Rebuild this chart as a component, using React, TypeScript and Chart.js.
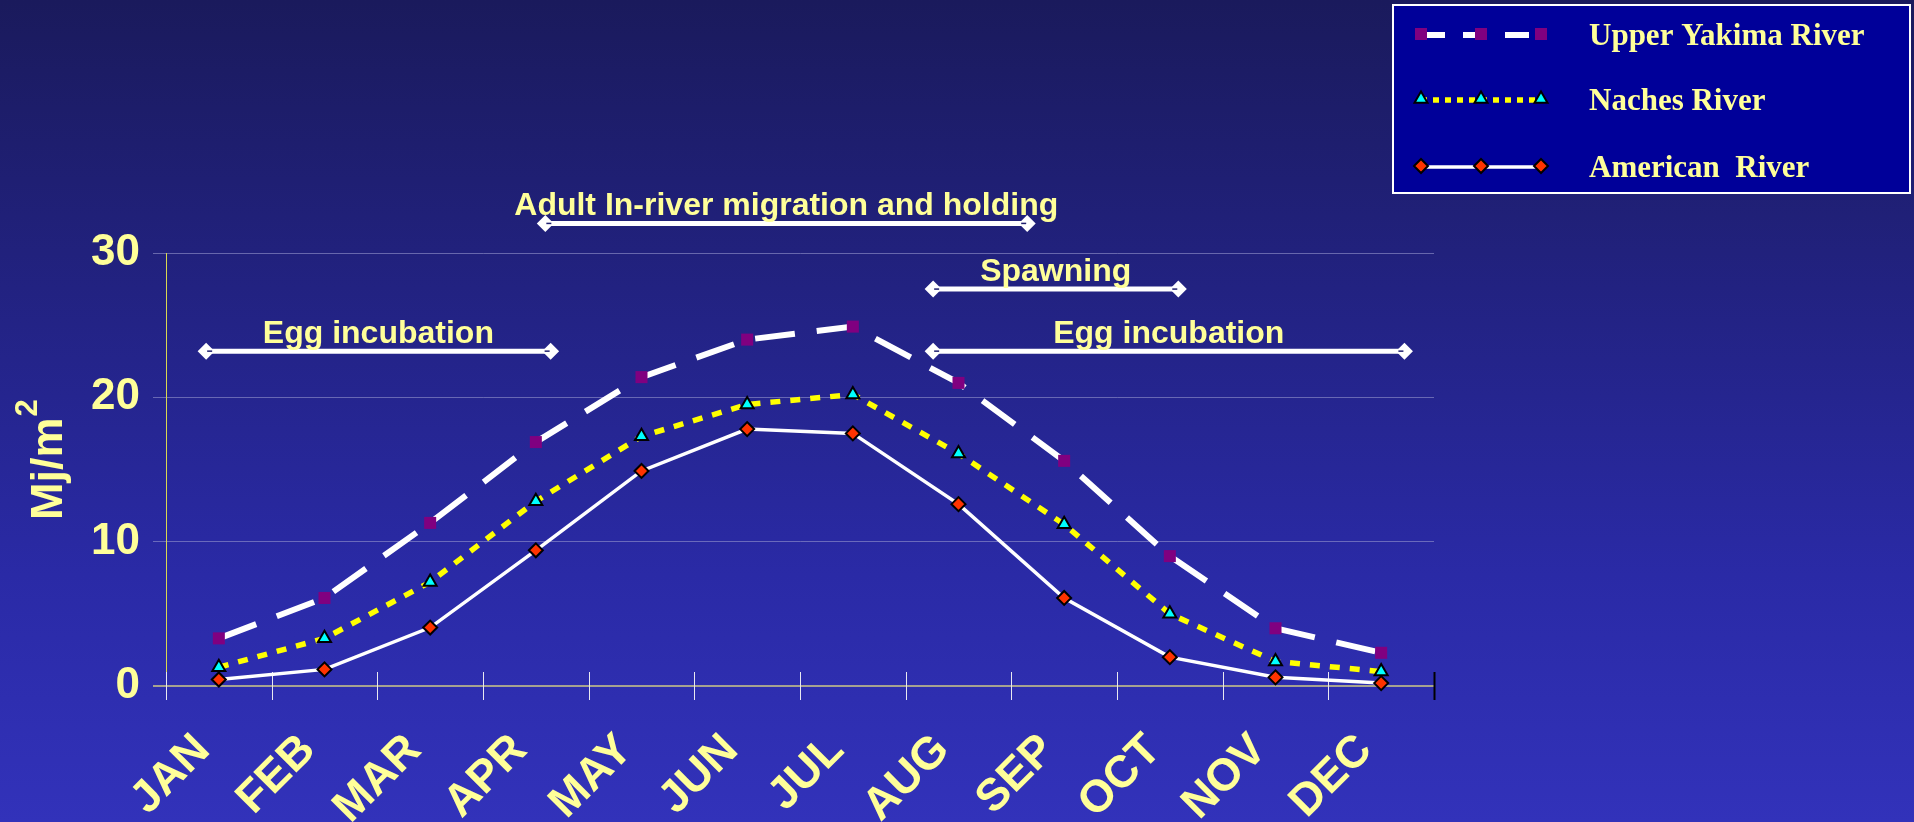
import React, { useEffect, useRef } from 'react';
import { Chart, registerables } from 'chart.js';
import { drawPoint } from 'chart.js/helpers';

Chart.register(...registerables);

// Monthly solar radiation (Mj/m²) for three rivers
const months = ['JAN', 'FEB', 'MAR', 'APR', 'MAY', 'JUN', 'JUL', 'AUG', 'SEP', 'OCT', 'NOV', 'DEC'];
const upperYakima = [3.3, 6.1, 11.3, 16.9, 21.4, 24.0, 24.9, 21.0, 15.6, 9.0, 4.0, 2.3];
const naches = [1.3, 3.3, 7.2, 12.8, 17.3, 19.5, 20.2, 16.1, 11.2, 5.0, 1.7, 1.0];
const american = [0.45, 1.15, 4.05, 9.4, 14.9, 17.8, 17.5, 12.6, 6.1, 2.0, 0.6, 0.2];
const seriesNames = ['Upper Yakima River', 'Naches River', 'American  River'];
const yMin = 0;
const yMax = 30;
const yStep = 10;
const yTitleMain = 'Mj/m';
const yTitleSup = '2';

// Life-stage periods drawn as double-headed bars (month index positions, level on y scale)
const periodLabels = ['Egg incubation', 'Adult In-river migration and holding', 'Spawning', 'Egg incubation'];
const periodStarts = [-0.12, 3.09, 6.76, 6.76];
const periodEnds = [3.14, 7.65, 9.08, 11.22];
const periodLevels = [23.2, 32.05, 27.5, 23.2];

const TEXT_YELLOW = '#FFFF99';
const SANS = 'Arial, "Liberation Sans", Helvetica, sans-serif';
const SERIF = '"Times New Roman", "Liberation Serif", Times, serif';

const seriesStyles = [
  { line: '#FFFFFF', width: 6, dash: [40, 22], legendDash: [24, 18], point: 'rect', radius: 8.5, fill: '#800080', border: '#800080', borderWidth: 0 },
  { line: '#FFFF00', width: 5.5, dash: [10, 10], legendDash: [6, 6], point: 'triangle', radius: 7.5, fill: '#00FFFF', border: '#000000', borderWidth: 2 },
  { line: '#FFFFFF', width: 3.5, dash: [], legendDash: [], point: 'rectRot', radius: 7, fill: '#FF3300', border: '#000000', borderWidth: 2 },
];

const xTickPlugin = {
  id: 'crossTicks',
  beforeDatasetsDraw(chart: any) {
    const { ctx, chartArea, scales } = chart;
    const x = scales.x;
    ctx.save();
    for (let i = 0; i <= months.length; i++) {
      const px = Math.round(x.getPixelForValue(i - 0.5)) + 0.5;
      const last = i === months.length;
      ctx.strokeStyle = last ? '#000000' : '#E8E8F0';
      ctx.lineWidth = last ? 2 : 1;
      ctx.beginPath();
      ctx.moveTo(px, chartArea.bottom - 14);
      ctx.lineTo(px, chartArea.bottom + 14);
      ctx.stroke();
    }
    ctx.restore();
  },
};

const yTitlePlugin = {
  id: 'yTitle',
  afterDraw(chart: any) {
    const { ctx } = chart;
    ctx.save();
    ctx.translate(62, 520);
    ctx.rotate(-Math.PI / 2);
    ctx.fillStyle = TEXT_YELLOW;
    ctx.textAlign = 'left';
    ctx.textBaseline = 'alphabetic';
    ctx.font = `bold 45px ${SANS}`;
    ctx.fillText(yTitleMain, 0, 0);
    const w = ctx.measureText(yTitleMain).width;
    ctx.font = `bold 31px ${SANS}`;
    ctx.fillText(yTitleSup, w + 1, -25);
    ctx.restore();
  },
};

const periodPlugin = {
  id: 'periods',
  afterDraw(chart: any) {
    const { ctx, scales } = chart;
    const x = scales.x;
    const y = scales.y;
    ctx.save();
    for (let i = 0; i < periodLabels.length; i++) {
      const x1 = x.getPixelForValue(periodStarts[i]);
      const x2 = x.getPixelForValue(periodEnds[i]);
      const py = y.getPixelForValue(periodLevels[i]);
      ctx.strokeStyle = '#FFFFFF';
      ctx.lineWidth = 5;
      ctx.beginPath();
      ctx.moveTo(x1, py);
      ctx.lineTo(x2, py);
      ctx.stroke();
      const h = 8.5;
      for (const [cx, dir] of [[x1, 1], [x2, -1]] as [number, number][]) {
        ctx.fillStyle = '#FFFFFF';
        ctx.beginPath();
        ctx.moveTo(cx - h, py);
        ctx.lineTo(cx, py - h);
        ctx.lineTo(cx + h, py);
        ctx.lineTo(cx, py + h);
        ctx.closePath();
        ctx.fill();
        ctx.strokeStyle = '#1E1E6E';
        ctx.lineWidth = 1.5;
        ctx.beginPath();
        ctx.moveTo(cx + dir * 1, py);
        ctx.lineTo(cx + dir * 6, py);
        ctx.stroke();
      }
      ctx.fillStyle = TEXT_YELLOW;
      ctx.font = `bold 32px ${SANS}`;
      ctx.textAlign = 'center';
      ctx.textBaseline = 'alphabetic';
      ctx.fillText(periodLabels[i], (x1 + x2) / 2, py - 8);
    }
    ctx.restore();
  },
};

const legendPlugin = {
  id: 'boxLegend',
  afterDraw(chart: any) {
    const { ctx } = chart;
    const bx = 1393;
    const by = 5;
    const bw = 517;
    const bh = 188;
    ctx.save();
    ctx.fillStyle = '#000099';
    ctx.fillRect(bx, by, bw, bh);
    ctx.strokeStyle = '#FFFFFF';
    ctx.lineWidth = 2;
    ctx.strokeRect(bx, by, bw, bh);
    const rows = [34, 99, 166];
    const sx1 = 1421;
    const sx2 = 1541;
    seriesStyles.forEach((s, i) => {
      const ry = rows[i];
      ctx.strokeStyle = s.line;
      ctx.lineWidth = s.width;
      ctx.setLineDash(s.legendDash);
      ctx.beginPath();
      ctx.moveTo(sx1, ry + 1);
      ctx.lineTo(sx2, ry + 1);
      ctx.stroke();
      ctx.setLineDash([]);
      for (const mx of [sx1, (sx1 + sx2) / 2, sx2]) {
        ctx.fillStyle = s.fill;
        ctx.strokeStyle = s.border;
        ctx.lineWidth = s.borderWidth;
        drawPoint(ctx, { pointStyle: s.point, radius: s.radius, borderWidth: s.borderWidth, rotation: 0 } as any, mx, ry);
      }
      ctx.fillStyle = TEXT_YELLOW;
      ctx.font = `bold 31px ${SERIF}`;
      ctx.textAlign = 'left';
      ctx.textBaseline = 'middle';
      ctx.fillText(seriesNames[i], 1589, ry + 3);
    });
    ctx.restore();
  },
};

export default function App() {
  const canvasRef = useRef<HTMLCanvasElement | null>(null);

  useEffect(() => {
    const canvas = canvasRef.current;
    if (!canvas) return;
    const seriesData = [upperYakima, naches, american];
    const chart = new Chart(canvas, {
      type: 'line',
      data: {
        labels: months,
        datasets: seriesData.map((d, i) => {
          const s = seriesStyles[i];
          return {
            label: seriesNames[i],
            data: d,
            borderColor: s.line,
            borderWidth: s.width,
            borderDash: s.dash,
            borderCapStyle: 'butt',
            tension: 0,
            fill: false,
            pointStyle: s.point,
            pointRadius: s.radius,
            pointBackgroundColor: s.fill,
            pointBorderColor: s.border,
            pointBorderWidth: s.borderWidth,
            clip: false,
          } as any;
        }),
      },
      options: {
        responsive: false,
        animation: false,
        layout: { padding: { left: 0, top: 253, right: 480, bottom: 0 } },
        plugins: {
          legend: { display: false },
          tooltip: { enabled: false },
        },
        scales: {
          x: {
            type: 'category',
            offset: true,
            grid: { display: false },
            border: { display: false },
            ticks: {
              color: TEXT_YELLOW,
              font: { family: SANS, size: 45, weight: 'bold' },
              minRotation: 45,
              maxRotation: 45,
              autoSkip: false,
              padding: 30,
              labelOffset: -16,
            },
            afterFit: (s: any) => {
              s.height = 136;
            },
          },
          y: {
            min: yMin,
            max: yMax,
            ticks: {
              stepSize: yStep,
              color: TEXT_YELLOW,
              font: { family: SANS, size: 44, weight: 'bold' },
              padding: 13,
            },
            grid: {
              color: (c: any) => (c.tick && c.tick.value === 0 ? '#A6A290' : 'rgba(150,150,205,0.6)'),
              lineWidth: (c: any) => (c.tick && c.tick.value === 0 ? 2 : 1),
              tickLength: 13,
            },
            border: { display: true, color: '#D8D850', width: 1 },
            title: { display: false },
            afterFit: (s: any) => {
              s.width = 166;
            },
          },
        },
      },
      plugins: [xTickPlugin, periodPlugin, legendPlugin, yTitlePlugin],
    });
    return () => chart.destroy();
  }, []);

  return (
    <div
      style={{
        position: 'fixed',
        left: 0,
        top: 0,
        width: 1914,
        height: 822,
        background: 'linear-gradient(to bottom, #1A1A5C 0%, #2A2AA6 70%, #3232BA 100%)',
      }}
    >
      <canvas ref={canvasRef} width={1914} height={822} style={{ display: 'block' }} />
    </div>
  );
}
